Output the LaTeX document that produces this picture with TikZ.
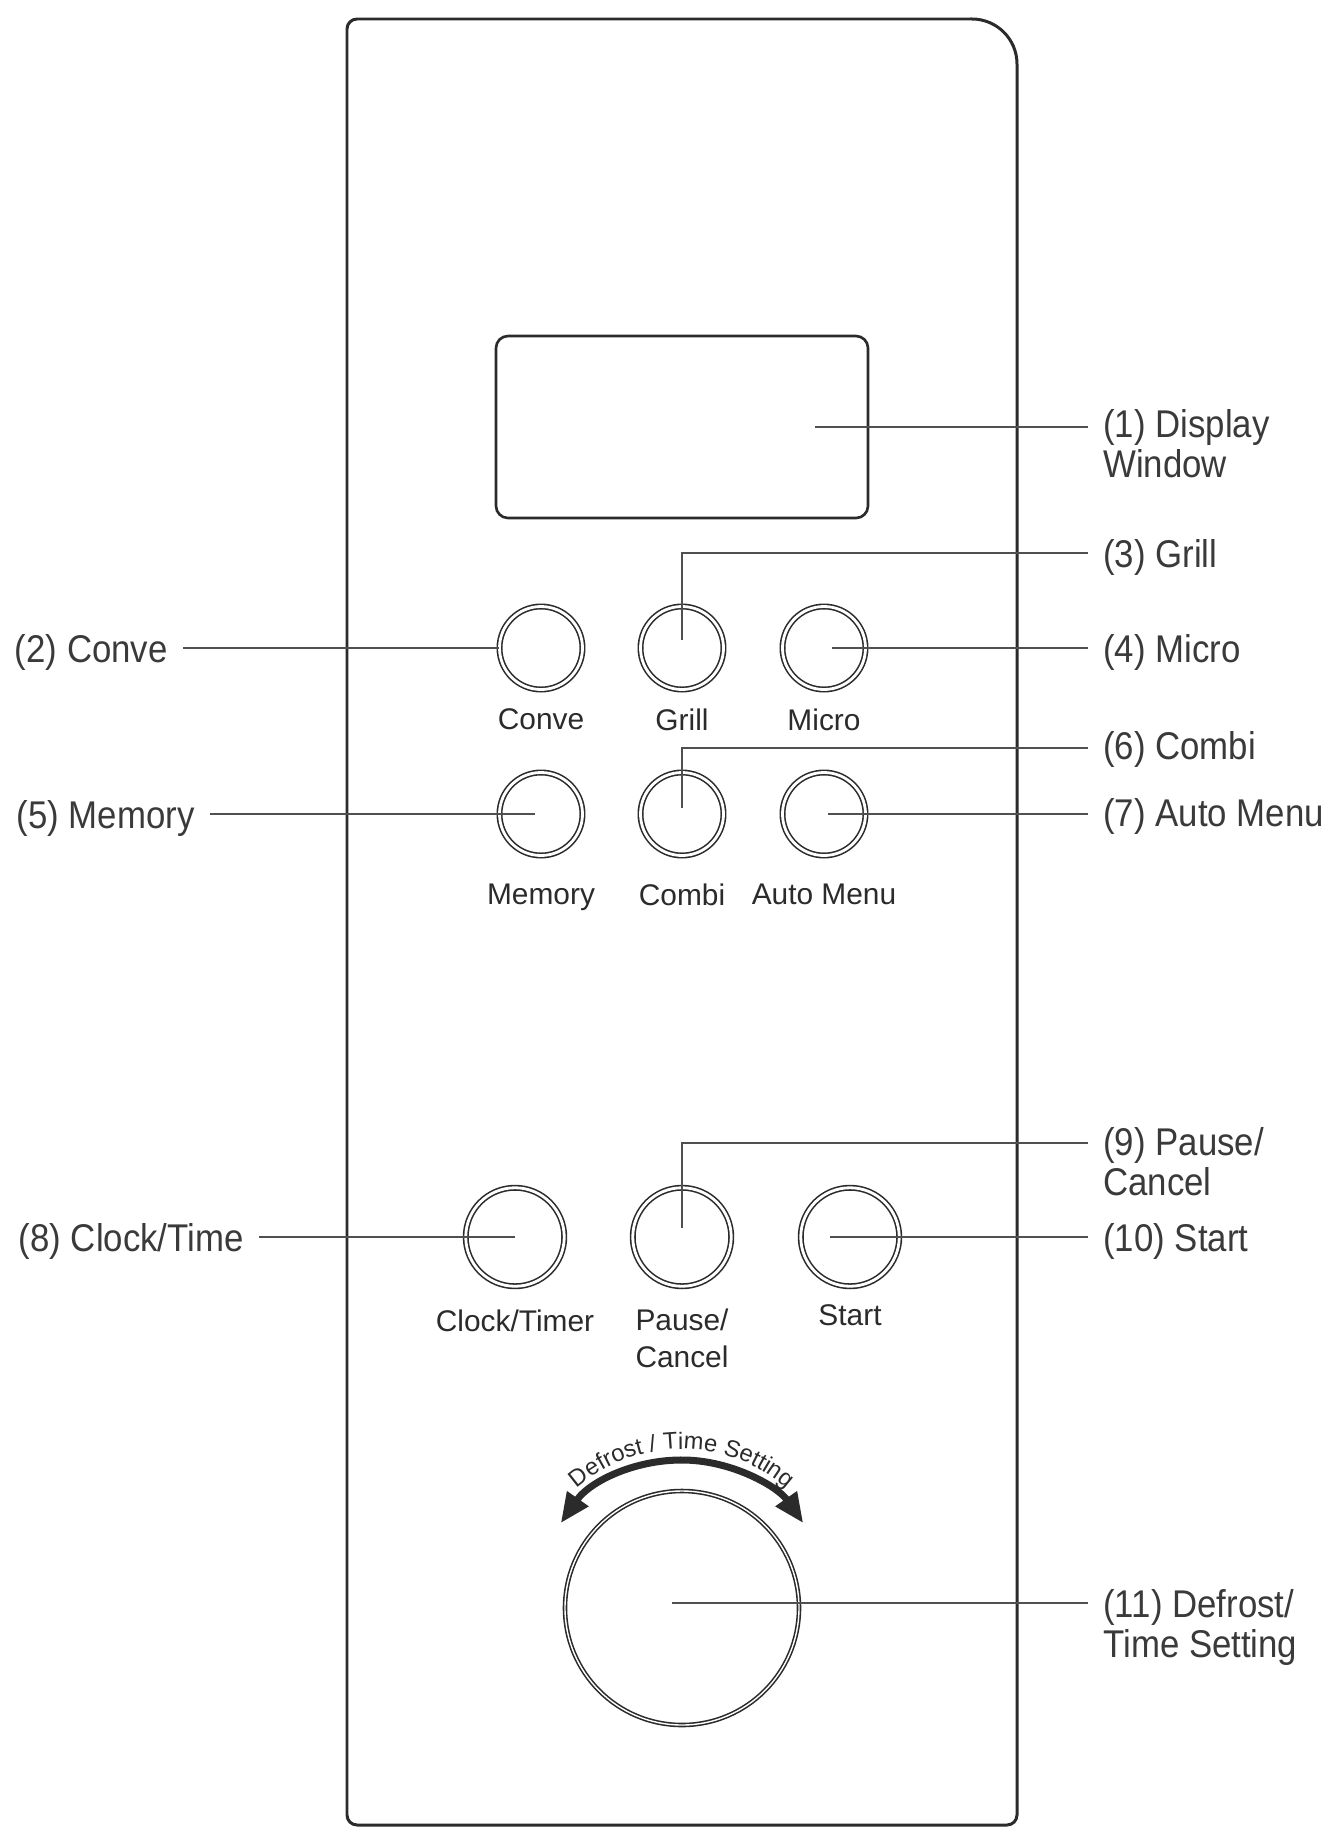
\documentclass[tikz,border=0pt]{standalone}
\usepackage{fontspec}
\setmainfont{Liberation Sans}
\newfontfamily\narrowsans{Liberation Sans}[FakeStretch=0.9]
\usepackage{xcolor}
\usetikzlibrary{arrows.meta, positioning, decorations.text}
\definecolor{inkgray}{HTML}{2B2B2B}
\definecolor{softgray}{HTML}{3A3A3A}
\definecolor{leadgray}{HTML}{505050}
\newcommand{\calloutfont}{\narrowsans\fontsize{22}{22.7}\selectfont}
\newcommand{\keyfont}{\fontsize{17}{21.5}\selectfont}
\newcommand{\arcfont}{\fontsize{13.5}{13.5}\selectfont}

\begin{document}
\begin{tikzpicture}[
  panelline/.style={draw=inkgray, line width=1.7pt},
  dispwin/.style={draw=inkgray, line width=1.5pt, rounded corners=0.24cm, minimum width=7.44cm, minimum height=3.64cm},
  btn/.style={circle, draw=inkgray, line width=0.9pt, double, double distance=1.6pt, minimum size=1.66cm, inner sep=0},
  bigbtn/.style={btn, minimum size=1.97cm},
  knob/.style={circle, draw=inkgray, line width=0.9pt, double, double distance=0.8pt, minimum size=4.68cm, inner sep=0},
  keylabel/.style={font=\keyfont, text=inkgray, inner sep=0, align=center},
  callout/.style={font=\calloutfont, text=softgray, anchor=base west, inner xsep=0.3cm, inner ysep=0, align=left},
  leader/.style={draw=leadgray, line width=1.1pt},
  dialarrow/.style={draw=inkgray, line width=4pt, {Triangle[length=17pt,width=14pt]}-{Triangle[length=17pt,width=14pt]}},
]
  \useasboundingbox (0,0) rectangle (26.64,-36.62);

  % panel outline
  \draw[panelline] (19.44,-0.38) -- (7.14,-0.38) arc[start angle=90, end angle=180, radius=0.2cm]
    -- (6.94,-36.30) arc[start angle=180, end angle=270, radius=0.2cm]
    -- (20.14,-36.50) arc[start angle=270, end angle=360, radius=0.2cm]
    -- (20.34,-1.28) arc[start angle=0, end angle=90, radius=0.9cm] -- cycle;

  \node[dispwin] (disp) at (13.64,-8.54) {};

  % keys
  \node[btn] (conve) at (10.82,-12.96) {};
  \node[btn] (grill) at (13.64,-12.96) {};
  \node[btn] (micro) at (16.48,-12.96) {};
  \node[btn] (memory) at (10.82,-16.28) {};
  \node[btn] (combi) at (13.64,-16.28) {};
  \node[btn] (automenu) at (16.48,-16.28) {};
  \node[bigbtn] (clock) at (10.30,-24.74) {};
  \node[bigbtn] (pause) at (13.64,-24.74) {};
  \node[bigbtn] (start) at (17.00,-24.74) {};
  \node[knob] (dial) at (13.64,-32.16) {};

  \node[keylabel, below=0.36cm of conve] (tconve) {Conve};
  \node[keylabel, below=0.36cm of grill] (tgrill) {Grill};
  \node[keylabel, below=0.36cm of micro] (tmicro) {Micro};
  \node[keylabel, below=0.54cm of memory] (tmemory) {Memory};
  \node[keylabel, below=0.54cm of combi] (tcombi) {Combi};
  \node[keylabel, below=0.54cm of automenu] (tautomenu) {Auto Menu};
  \node[keylabel, below=0.44cm of clock] (tclock) {Clock/Timer};
  \node[keylabel, below=0.42cm of pause] (tpause) {Pause/\\Cancel};
  \node[keylabel, below=0.34cm of start] (tstart) {Start};

  % dial arrow and its text
  \draw[dialarrow] ([shift={(145:2.96cm)}]dial.center) arc[start angle=145, end angle=35, radius=2.96cm];
  \path[decorate, decoration={text along path, text align=center, text color=inkgray,
      text={|\arcfont|Defrost / Time Setting}}]
    ([shift={(150:3.18cm)}]dial.center) arc[start angle=150, end angle=30, radius=3.18cm];

  % callouts, right
  \coordinate (e1) at (21.76,-8.54);
  \coordinate (e3) at (21.76,-11.06);
  \coordinate (e4) at (21.76,-12.96);
  \coordinate (e6) at (21.76,-14.96);
  \coordinate (e7) at (21.76,-16.28);
  \coordinate (e9) at (21.76,-22.86);
  \coordinate (e10) at (21.76,-24.74);
  \coordinate (e11) at (21.76,-32.06);
  \node[callout] (l1) at ([yshift=-1.0cm]e1) {(1) Display\\Window};
  \node[callout] (l3) at ([yshift=-0.28cm]e3) {(3) Grill};
  \node[callout] (l4) at ([yshift=-0.28cm]e4) {(4) Micro};
  \node[callout] (l6) at ([yshift=-0.22cm]e6) {(6) Combi};
  \node[callout] (l7) at ([yshift=-0.24cm]e7) {(7) Auto Menu};
  \node[callout] (l9) at ([yshift=-1.04cm]e9) {(9) Pause/\\Cancel};
  \node[callout] (l10) at ([yshift=-0.28cm]e10) {(10) Start};
  \node[callout] (l11) at ([yshift=-1.08cm]e11) {(11) Defrost/\\Time Setting};

  \draw[leader] ([xshift=2.66cm]disp.center) -- (e1);
  \draw[leader] ([yshift=0.16cm]grill.center) |- (e3);
  \draw[leader] ([xshift=0.16cm]micro.center) -- (e4);
  \draw[leader] ([yshift=0.12cm]combi.center) |- (e6);
  \draw[leader] ([xshift=0.08cm]automenu.center) -- (e7);
  \draw[leader] ([yshift=0.18cm]pause.center) |- (e9);
  \draw[leader] ([xshift=-0.40cm]start.center) -- (e10);
  \draw[leader] ([shift={(-0.2cm,0.1cm)}]dial.center) -- (e11);

  % callouts, left
  \coordinate (s2) at (3.66,-12.96);
  \coordinate (s5) at (4.20,-16.28);
  \coordinate (s8) at (5.18,-24.74);
  \node[callout, anchor=base east] (l2) at ([yshift=-0.28cm]s2) {(2) Conve};
  \node[callout, anchor=base east] (l5) at ([yshift=-0.28cm]s5) {(5) Memory};
  \node[callout, anchor=base east] (l8) at ([yshift=-0.28cm]s8) {(8) Clock/Time};

  \draw[leader] (s2) -- (conve.west);
  \draw[leader] (s5) -- ([xshift=-0.12cm]memory.center);
  \draw[leader] (s8) -- (clock.center);
\end{tikzpicture}
\end{document}
